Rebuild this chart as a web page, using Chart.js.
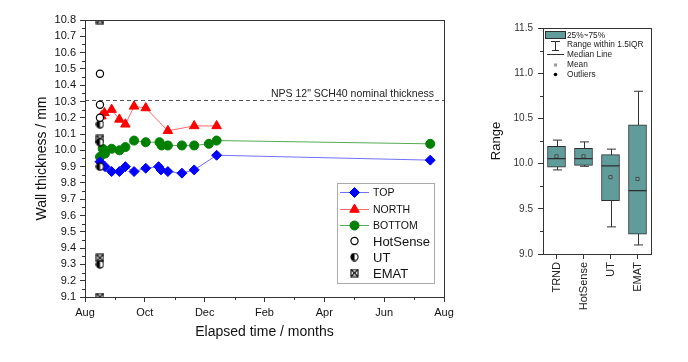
<!DOCTYPE html>
<html lang="en">
<head>
<meta charset="UTF-8" />
<title>Wall thickness</title>
<script src="https://cdn.jsdelivr.net/npm/chart.js"></script>
<style>
  body { margin: 0; background: #fff; }
  #wrap { position: relative; width: 688px; height: 362px; }
  #left { position: absolute; left: 0; top: 0; }
  #right { position: absolute; left: 470px; top: 0; }
</style>
</head>
<body>
<div id="wrap">
  <canvas id="left" width="470" height="362"></canvas>
  <canvas id="right" width="218" height="362"></canvas>
</div>
<script>
  // left chart: months after Aug 1
  const topMonths = [0.5, 0.67, 0.89, 1.15, 1.35, 1.64, 2.03, 2.46, 2.54, 2.77, 3.24, 3.65, 4.40, 11.54];
  const topWall = [9.93, 9.90, 9.87, 9.87, 9.90, 9.87, 9.89, 9.90, 9.88, 9.87, 9.86, 9.88, 9.97, 9.94];
  const northMonths = [0.55, 0.65, 0.89, 1.15, 1.35, 1.64, 2.03, 2.77, 3.65, 4.40];
  const northWall = [10.21, 10.23, 10.25, 10.19, 10.16, 10.27, 10.26, 10.12, 10.15, 10.15];
  const bottomMonths = [0.5, 0.59, 0.67, 0.89, 1.15, 1.35, 1.64, 2.03, 2.49, 2.56, 2.77, 3.24, 3.65, 4.14, 4.40, 11.54];
  const bottomWall = [9.96, 10.01, 9.98, 10.01, 10.00, 10.02, 10.06, 10.05, 10.05, 10.03, 10.03, 10.03, 10.03, 10.04, 10.06, 10.04];
  const probeMonth = 0.5;
  const hotSenseWall = [10.47, 10.28, 10.20];
  const utWall = [10.16, 10.05, 9.90, 9.30];
  const ematWall = [10.80, 10.07, 9.34, 9.10];
  const nominalWall = 10.31;
  const monthLabels = ['Aug', 'Oct', 'Dec', 'Feb', 'Apr', 'Jun', 'Aug'];

  // right chart: box plot
  const methods = ['TRND', 'HotSense', 'UT', 'EMAT'];
  const q1 = [9.96, 9.98, 9.59, 9.22];
  const q3 = [10.19, 10.17, 10.10, 10.43];
  const medians = [10.055, 10.055, 9.975, 9.70];
  const means = [10.08, 10.08, 9.85, 9.83];
  const whiskerLow = [9.93, 9.97, 9.30, 9.10];
  const whiskerHigh = [10.26, 10.24, 10.16, 10.80];

  const FONT = "'Liberation Sans', Arial, sans-serif";
  const boxFill = '#5f9c9a';

  const pts = (xs, ys) => xs.map((x, i) => ({ x: x, y: ys[i] }));
  const probe = ys => ys.map(y => ({ x: probeMonth, y: y }));

  function makeIcon(kind) {
    const c = document.createElement('canvas');
    c.width = 9; c.height = 9;
    const g = c.getContext('2d');
    g.lineWidth = 1.1;
    g.strokeStyle = '#000';
    if (kind === 'ut') {
      g.fillStyle = '#fff';
      g.beginPath(); g.arc(4.5, 4.5, 3.6, 0, Math.PI * 2); g.fill();
      g.fillStyle = '#000';
      g.beginPath(); g.arc(4.5, 4.5, 3.6, Math.PI / 2, Math.PI * 1.5); g.fill();
      g.beginPath(); g.arc(4.5, 4.5, 3.6, 0, Math.PI * 2); g.stroke();
    } else {
      g.fillStyle = '#fff';
      g.fillRect(1, 1, 7, 7);
      g.strokeRect(1, 1, 7, 7);
      g.beginPath();
      g.moveTo(1, 1); g.lineTo(8, 8);
      g.moveTo(8, 1); g.lineTo(1, 8);
      g.stroke();
    }
    return c;
  }
  const utIcon = makeIcon('ut');
  const ematIcon = makeIcon('emat');

  function drawMarker(ctx, ds, x, y) {
    const r = ds.pointRadius;
    const s = ds.pointStyle;
    ctx.save();
    ctx.fillStyle = ds.pointBackgroundColor;
    ctx.strokeStyle = ds.pointBorderColor;
    ctx.lineWidth = ds.pointBorderWidth || 1;
    ctx.beginPath();
    if (s instanceof HTMLCanvasElement) {
      ctx.drawImage(s, x - s.width / 2, y - s.height / 2);
    } else if (s === 'rectRot') {
      ctx.moveTo(x, y - r); ctx.lineTo(x + r, y); ctx.lineTo(x, y + r); ctx.lineTo(x - r, y);
      ctx.closePath(); ctx.fill(); ctx.stroke();
    } else if (s === 'triangle') {
      ctx.moveTo(x, y - r);
      ctx.lineTo(x + r * 0.866, y + r * 0.5);
      ctx.lineTo(x - r * 0.866, y + r * 0.5);
      ctx.closePath(); ctx.fill(); ctx.stroke();
    } else {
      ctx.arc(x, y, r, 0, Math.PI * 2);
      ctx.fill(); ctx.stroke();
    }
    ctx.restore();
  }

  // minor ticks + frame, shared by both charts
  const axisDecor = {
    id: 'axisDecor',
    afterDraw(chart, args, opts) {
      const { ctx, chartArea: a, scales } = chart;
      ctx.save();
      ctx.strokeStyle = '#333';
      ctx.lineWidth = 1;
      ctx.beginPath();
      (opts.x || []).forEach(v => {
        const px = Math.round(scales.x.getPixelForValue(v)) + 0.5;
        ctx.moveTo(px, a.bottom); ctx.lineTo(px, a.bottom + 3);
      });
      (opts.y || []).forEach(v => {
        const py = Math.round(scales.y.getPixelForValue(v)) + 0.5;
        ctx.moveTo(a.left, py); ctx.lineTo(a.left - 3, py);
      });
      ctx.stroke();
      ctx.strokeRect(Math.round(a.left) + 0.5, Math.round(a.top) + 0.5, Math.round(a.right - a.left), Math.round(a.bottom - a.top));
      ctx.restore();
    }
  };

  const nominalLine = {
    id: 'nominalLine',
    beforeDatasetsDraw(chart) {
      const { ctx, chartArea: a, scales } = chart;
      const py = Math.round(scales.y.getPixelForValue(nominalWall)) + 0.5;
      ctx.save();
      ctx.strokeStyle = '#555';
      ctx.lineWidth = 1;
      ctx.setLineDash([4, 3]);
      ctx.beginPath(); ctx.moveTo(a.left, py); ctx.lineTo(a.right, py); ctx.stroke();
      ctx.setLineDash([]);
      ctx.fillStyle = '#222';
      ctx.font = '10.5px ' + FONT;
      ctx.textAlign = 'right';
      ctx.textBaseline = 'bottom';
      ctx.fillText('NPS 12" SCH40 nominal thickness', a.right - 10, py - 1);
      ctx.restore();
    }
  };

  const leftLegend = {
    id: 'leftLegend',
    afterDraw(chart) {
      const ctx = chart.ctx;
      const bx = 337.5, by = 183.5, bw = 97, bh = 100;
      ctx.save();
      ctx.fillStyle = '#fff';
      ctx.fillRect(bx, by, bw, bh);
      ctx.strokeStyle = '#aaa';
      ctx.lineWidth = 1;
      ctx.strokeRect(bx, by, bw, bh);
      const rowY = [192.5, 209.5, 225.5, 241, 257, 273];
      chart.data.datasets.forEach((ds, i) => {
        const y = rowY[i];
        if (ds.showLine) {
          ctx.strokeStyle = ds.borderColor;
          ctx.lineWidth = 1;
          ctx.beginPath(); ctx.moveTo(340, y); ctx.lineTo(369, y); ctx.stroke();
        }
        drawMarker(ctx, ds, 354.5, y);
        ctx.fillStyle = '#111';
        ctx.font = (ds.showLine ? '10.5px ' : '13px ') + FONT;
        ctx.textAlign = 'left';
        ctx.textBaseline = 'middle';
        ctx.fillText(ds.label, 373, y + 1);
      });
      ctx.restore();
    }
  };

  const minorX = [];
  for (let m = 1; m < 12; m += 2) minorX.push(m);
  const minorY = [];
  for (let k = 0; k < 17; k++) minorY.push(9.15 + k * 0.1);

  new Chart(document.getElementById('left'), {
    type: 'scatter',
    data: {
      datasets: [
        { label: 'TOP', data: pts(topMonths, topWall), showLine: true, borderColor: '#7070ff', borderWidth: 1,
          pointStyle: 'rectRot', pointRadius: 5, pointBackgroundColor: '#0000ff', pointBorderColor: '#0000ff', pointBorderWidth: 1, order: 3 },
        { label: 'NORTH', data: pts(northMonths, northWall), showLine: true, borderColor: '#ff6a6a', borderWidth: 1,
          pointStyle: 'triangle', pointRadius: 5.5, pointBackgroundColor: '#ff0000', pointBorderColor: '#ff0000', pointBorderWidth: 1, order: 2 },
        { label: 'BOTTOM', data: pts(bottomMonths, bottomWall), showLine: true, borderColor: '#55aa55', borderWidth: 1,
          pointStyle: 'circle', pointRadius: 4.5, pointBackgroundColor: '#008000', pointBorderColor: '#008000', pointBorderWidth: 1, order: 4 },
        { label: 'HotSense', data: probe(hotSenseWall), showLine: false,
          pointStyle: 'circle', pointRadius: 3.6, pointBackgroundColor: '#fff', pointBorderColor: '#000', pointBorderWidth: 1.2, order: 0 },
        { label: 'UT', data: probe(utWall), showLine: false,
          pointStyle: utIcon, pointRadius: 4, pointBackgroundColor: '#000', pointBorderColor: '#000', order: 0 },
        { label: 'EMAT', data: probe(ematWall), showLine: false,
          pointStyle: ematIcon, pointRadius: 4, pointBackgroundColor: '#000', pointBorderColor: '#000', order: 1 }
      ]
    },
    options: {
      responsive: false,
      animation: false,
      layout: { padding: { left: 30, top: 20, right: 26, bottom: 17 } },
      plugins: {
        legend: { display: false },
        tooltip: { enabled: false },
        axisDecor: { x: minorX, y: minorY }
      },
      scales: {
        x: {
          type: 'linear', min: 0, max: 12,
          afterFit(s) { s.height = 48; },
          border: { color: '#333' },
          grid: { drawOnChartArea: false, tickLength: 5, tickColor: '#333' },
          ticks: { stepSize: 2, padding: 4, color: '#111', font: { family: FONT, size: 11 },
            callback: v => monthLabels[v / 2] },
          title: { display: true, text: 'Elapsed time / months', color: '#111', font: { family: FONT, size: 14 } }
        },
        y: {
          min: 9.1, max: 10.8,
          afterFit(s) { s.width = 55; },
          border: { color: '#333' },
          grid: { drawOnChartArea: false, tickLength: 5, tickColor: '#333' },
          ticks: { stepSize: 0.1, padding: 4, color: '#111', font: { family: FONT, size: 11 },
            callback: v => v.toFixed(1) },
          title: { display: true, text: 'Wall thickness / mm', color: '#111', font: { family: FONT, size: 14 } }
        }
      }
    },
    plugins: [nominalLine, axisDecor, leftLegend]
  });

  const boxExtras = {
    id: 'boxExtras',
    beforeDatasetsDraw(chart) {
      const { ctx, scales } = chart;
      ctx.save();
      ctx.strokeStyle = '#333';
      ctx.lineWidth = 1;
      ctx.beginPath();
      methods.forEach((m, i) => {
        const px = Math.round(scales.x.getPixelForValue(i)) + 0.5;
        const lo = scales.y.getPixelForValue(whiskerLow[i]);
        const hi = scales.y.getPixelForValue(whiskerHigh[i]);
        ctx.moveTo(px, lo); ctx.lineTo(px, hi);
        ctx.moveTo(px - 4.5, lo); ctx.lineTo(px + 4.5, lo);
        ctx.moveTo(px - 4.5, hi); ctx.lineTo(px + 4.5, hi);
      });
      ctx.stroke();
      ctx.restore();
    },
    afterDatasetsDraw(chart) {
      const { ctx, scales } = chart;
      ctx.save();
      ctx.strokeStyle = '#2e2e2e';
      ctx.lineWidth = 1.2;
      ctx.beginPath();
      methods.forEach((m, i) => {
        const px = scales.x.getPixelForValue(i);
        const py = scales.y.getPixelForValue(medians[i]);
        ctx.moveTo(px - 9, py); ctx.lineTo(px + 9, py);
      });
      ctx.stroke();
      ctx.restore();
    },
    afterDraw(chart) {
      const ctx = chart.ctx;
      ctx.save();
      ctx.fillStyle = boxFill;
      ctx.strokeStyle = '#2e2e2e';
      ctx.lineWidth = 1;
      ctx.fillRect(75.5, 31.5, 20, 7);
      ctx.strokeRect(75.5, 31.5, 20, 7);
      ctx.beginPath();
      ctx.moveTo(81, 41.5); ctx.lineTo(90, 41.5);
      ctx.moveTo(85.5, 41.5); ctx.lineTo(85.5, 50);
      ctx.moveTo(82, 50.5); ctx.lineTo(89, 50.5);
      ctx.moveTo(77, 54.5); ctx.lineTo(94, 54.5);
      ctx.stroke();
      ctx.fillStyle = '#9a9a9a';
      ctx.fillRect(84, 63.5, 3, 3);
      ctx.fillStyle = '#000';
      ctx.beginPath(); ctx.arc(85.5, 74.5, 1.8, 0, Math.PI * 2); ctx.fill();
      ctx.fillStyle = '#222';
      ctx.font = '8.3px ' + FONT;
      ctx.textBaseline = 'middle';
      ctx.fillText('25%~75%', 97, 35.5);
      ctx.fillText('Range within 1.5IQR', 97, 45);
      ctx.fillText('Median Line', 97, 54.5);
      ctx.fillText('Mean', 97, 65);
      ctx.fillText('Outliers', 97, 74.5);
      ctx.restore();
    }
  };

  const minorY2 = [];
  for (let k = 0; k < 5; k++) minorY2.push(9.25 + k * 0.5);

  new Chart(document.getElementById('right'), {
    type: 'bar',
    data: {
      labels: methods,
      datasets: [
        { type: 'line', label: 'Mean', data: means, showLine: false, pointStyle: 'rect', pointRadius: 2.2,
          pointBackgroundColor: '#7fa9a7', pointBorderColor: '#333', pointBorderWidth: 0.8, order: 0 },
        { label: '25%~75%', data: methods.map((m, i) => [q1[i], q3[i]]), backgroundColor: boxFill,
          borderColor: '#2e2e2e', borderWidth: 1, borderSkipped: false, barThickness: 18, order: 1 }
      ]
    },
    options: {
      responsive: false,
      animation: false,
      layout: { padding: { left: 15, top: 28, right: 37, bottom: 8 } },
      plugins: {
        legend: { display: false },
        tooltip: { enabled: false },
        axisDecor: { y: minorY2 }
      },
      scales: {
        x: {
          afterFit(s) { s.height = 100; },
          border: { color: '#333' },
          grid: { drawOnChartArea: false, offset: false, tickLength: 5, tickColor: '#333' },
          ticks: { minRotation: 90, maxRotation: 90, padding: 3, color: '#222', font: { family: FONT, size: 11 } }
        },
        y: {
          min: 9.0, max: 11.5,
          afterFit(s) { s.width = 58; },
          border: { color: '#333' },
          grid: { drawOnChartArea: false, tickLength: 5, tickColor: '#333' },
          ticks: { stepSize: 0.5, padding: 5, color: '#333', font: { family: FONT, size: 10 },
            callback: v => v.toFixed(1) },
          title: { display: true, text: 'Range', color: '#111', font: { family: FONT, size: 13 } }
        }
      }
    },
    plugins: [boxExtras, axisDecor]
  });
</script>
</body>
</html>
